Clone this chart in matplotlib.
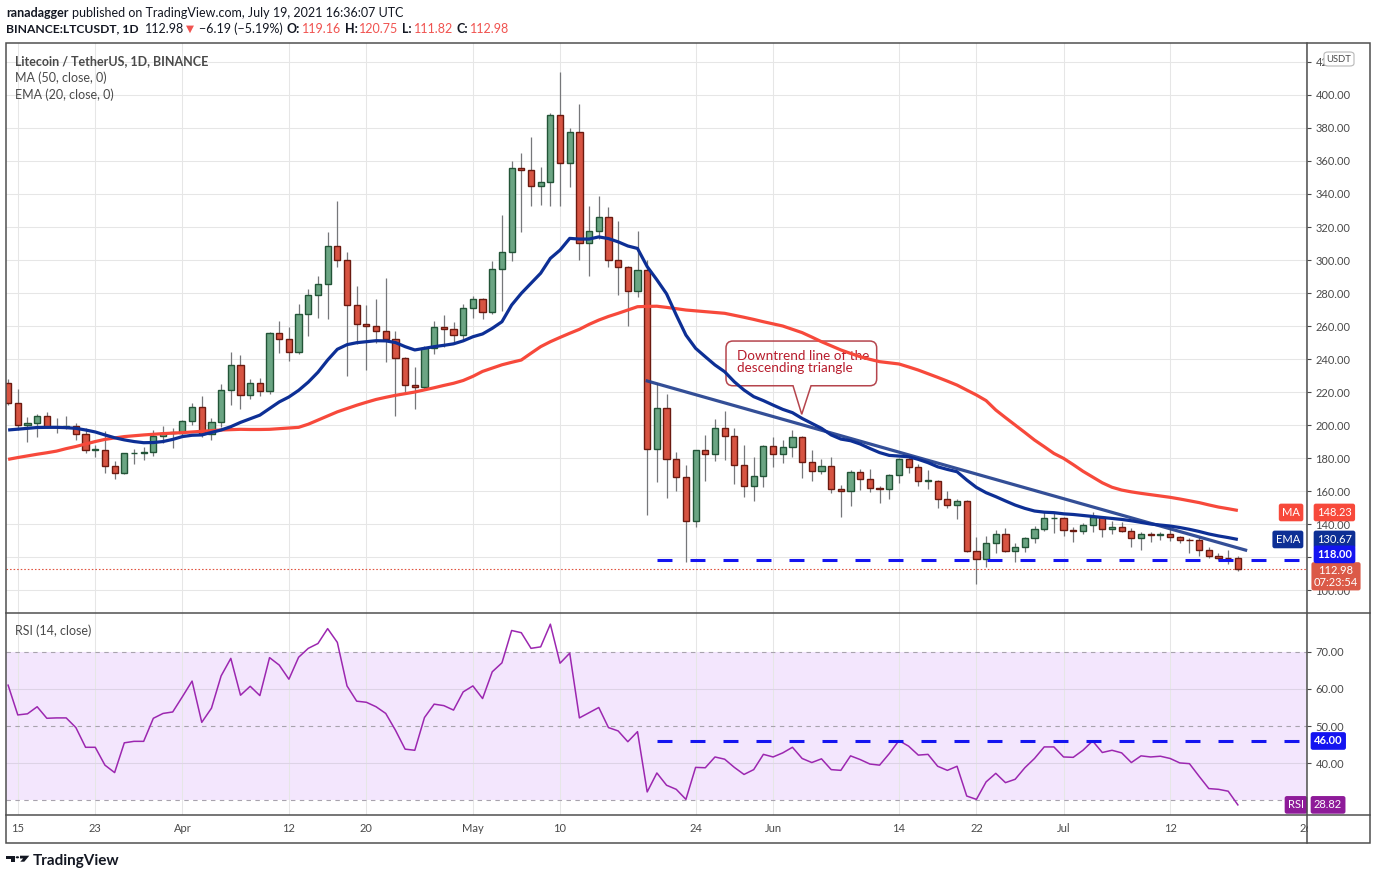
import numpy as np
import matplotlib.pyplot as plt
from matplotlib.patches import Rectangle, PathPatch, Polygon, Circle, FancyBboxPatch
from matplotlib.path import Path
from matplotlib.lines import Line2D

plt.rcParams['font.family'] = ['Lato', 'DejaVu Sans']

W, H = 1376, 880

# LTC/USDT daily candles, day 0 = 2021-03-14 ... day 127 = 2021-07-19
opens = [225.3, 213.1, 199.8, 201, 205.3, 198.6, 199, 199.3, 194.4, 184.7,
         185, 175.2, 170.8, 182.8, 183.3, 183.6, 193.2, 195, 195.4, 202.2,
         210.7, 194.4, 201.6, 221, 236.2, 218, 225.3, 220.5, 255.6, 252,
         244, 267, 278.6, 285.3, 308.3, 300.2, 272.5, 261, 259.8, 256.8,
         252, 240.4, 224, 223, 246.5, 259.2, 258, 254.8, 270.9, 276.2,
         268.3, 294.4, 304.6, 355.6, 354.4, 344.7, 347, 387.7, 358.6, 377.4,
         310.1, 317.4, 325.9, 299.8, 295.6, 281, 293.8, 185.3, 210.1, 179.2,
         168.3, 141.7, 184.7, 182.6, 198, 193.5, 176, 162.8, 169.3, 187,
         182.2, 186.5, 192.5, 177.4, 172, 175.4, 161.1, 160, 171.3, 167.1,
         161.6, 161.2, 170, 179.2, 174.4, 165.9, 166.1, 155.4, 151.3, 153.7,
         123.4, 118.6, 128.3, 133.8, 123.8, 125.9, 131.3, 136.8, 143.4, 143.6,
         136.2, 135.8, 139.4, 144, 136.8, 138, 136, 131.3, 134, 133.5,
         133.7, 132.4, 130.3, 130.1, 124.2, 120.8, 119.6, 119.16]
highs = [228, 222, 205, 206.5, 208, 204.5, 205.5, 201.5, 198, 188,
         196.5, 178, 183, 185.7, 186.7, 197, 199.4, 198.4, 203, 213.3,
         217.5, 204, 224.7, 244, 242.4, 228, 228.5, 256.2, 263, 259.4,
         273.3, 282.4, 290.3, 317, 335.8, 304.8, 284.2, 272.7, 276.4, 289,
         256.8, 241, 235.3, 248, 263, 266.5, 262.2, 273.3, 278.2, 276.8,
         299.4, 327.3, 360, 364.6, 374.5, 356.4, 389.3, 414, 380, 394.5,
         332.7, 338.8, 332, 323.6, 296.4, 317.6, 300, 225.7, 218.8, 183.6,
         175.8, 185, 194, 203.6, 208.3, 198, 188, 180.4, 188, 192.5,
         191, 197, 193.3, 184.8, 179.2, 180.8, 163.6, 172.7, 173.3, 173.3,
         163.2, 170.5, 180, 180.4, 176.2, 172.7, 166.7, 160, 155, 154.5,
         132, 132.7, 136.4, 137.4, 128.3, 132, 138.8, 148, 147, 144,
         138.4, 140.8, 147, 145, 142, 141.2, 137.4, 135, 135.4, 135.4,
         138.4, 132.7, 131.3, 132, 126.3, 122.6, 124, 120.75]
lows = [212, 197, 190, 193, 198, 195, 197.5, 191, 183, 180.5,
        171, 167, 170.5, 176.4, 179, 181, 189.3, 186, 192.5, 200,
        193, 191, 199, 212, 209.7, 215.8, 217.8, 218.6, 243.8, 239,
        243, 254, 265, 264.4, 296, 230, 249, 233.3, 250, 238.4,
        205.7, 219.6, 210, 221, 242.8, 247.3, 249, 251.5, 265, 264,
        267.3, 269.3, 299.6, 317, 333, 333.6, 333, 333, 344.4, 300,
        290.5, 313, 295.6, 279, 260.2, 277.8, 145.5, 165.3, 155.6, 160.2,
        116.8, 138.4, 166.2, 178.4, 178.8, 164.2, 156.6, 154, 162.2, 174.7,
        177, 180.8, 168, 166.2, 170.3, 159, 144, 151, 160.8, 159.6,
        153, 155.3, 165, 171, 163.2, 161.2, 149.7, 150, 142.8, 122.8,
        103.5, 114, 122.6, 123.2, 117.2, 123, 128.7, 135.8, 134.7, 133,
        129.3, 133.8, 135.4, 132.4, 134, 135, 126.3, 124.2, 129.3, 130.3,
        129.7, 128.3, 122.2, 120.6, 119.5, 118.2, 115.5, 111.82]
closes = [213.1, 199.8, 201, 205.3, 198.6, 199, 199.3, 194.4, 184.7, 185,
          175.2, 170.8, 182.8, 183.3, 183.6, 193.2, 195, 195.4, 202.2, 210.7,
          194.4, 201.6, 221, 236.2, 218, 225.3, 220.5, 255.6, 252, 244,
          267, 278.6, 285.3, 308.3, 300.2, 272.5, 261, 259.8, 256.8, 252,
          240.4, 224, 223, 246.5, 259.2, 258, 254.8, 270.9, 276.2, 268.3,
          294.4, 304.6, 355.6, 354.4, 344.7, 347, 387.7, 358.6, 377.4, 310.1,
          317.4, 325.9, 299.8, 295.6, 281, 293.8, 185.3, 210.1, 179.2, 168.3,
          141.7, 184.7, 182.6, 198, 193.5, 176, 162.8, 169.3, 187, 182.2,
          186.5, 192.5, 177.4, 172, 175.4, 161.1, 160, 171.3, 167.1, 161.6,
          161.2, 170, 179.2, 174.4, 165.9, 166.1, 155.4, 151.3, 153.7, 123.4,
          118.6, 128.3, 133.8, 123.8, 125.9, 131.3, 136.8, 143.4, 143.6, 136.2,
          135.8, 139.4, 144, 136.8, 138, 136, 131.3, 134, 133.5, 133.7,
          132.4, 130.3, 130.1, 124.2, 120.8, 119.6, 119.17, 112.98]

ema20 = [197, 197.5, 198, 198.5, 198.6, 198.6, 198.4, 198, 197, 195.8,
         194, 192.3, 191, 190, 189.3, 189.4, 190, 191.3, 193, 193.8,
         194, 195.5, 197, 199, 201.6, 203.8, 206, 210, 214, 217,
         221, 226, 232, 239.4, 245.9, 248.7, 249.9, 250.5, 251.1, 251,
         250, 247.5, 245.5, 246.5, 247.5, 248.3, 249.2, 251, 253.5, 255.2,
         258.6, 262.6, 272.7, 279.8, 285.9, 292, 301, 306, 313.1, 312.7,
         312.7, 314, 313, 311, 308.5, 307, 296, 288, 279.5, 266.7,
         254.5, 246.5, 241.4, 236.4, 232.3, 226.2, 221.2, 217.2, 214.8, 212.1,
         209.5, 207.5, 204, 201, 198, 194, 191.5, 190.5, 188.5, 185.8,
         183.3, 181.6, 181.2, 180.8, 179.2, 177.2, 174.7, 173.1, 171.7, 166.7,
         162.2, 159, 156.6, 154, 151.5, 149.5, 147.9, 147.2, 146.9, 146.2,
         145.8, 145.2, 144.6, 144, 143.4, 142.8, 142, 141, 140, 139.4,
         138.8, 137.9, 136.8, 135.5, 134, 132.8, 131.8, 130.67]
ma50 = [179.2, 180.3, 181.3, 182.3, 183.2, 184.2, 185.7, 187, 188.5, 190,
        191.3, 192.2, 193, 193.5, 194, 194.4, 194.8, 195.1, 195.4, 195.8,
        196.2, 196.6, 197, 197.2, 197.4, 197.3, 197.3, 197.4, 197.8, 198.2,
        198.6, 200.5, 203, 205.5, 208, 210, 212, 213.8, 215.5, 216.8,
        218, 219, 220, 221.3, 222.6, 224, 225.3, 227, 229.5, 232.5,
        234.5, 236.5, 238, 239.4, 243.5, 247.5, 250.5, 253.1, 255.6, 258,
        261, 263.6, 265.8, 267.7, 269.7, 271.7, 271.9, 272, 271.3, 270.5,
        269.7, 269.2, 268.7, 268.2, 267.7, 266.5, 265.3, 264, 262.6, 261.3,
        260, 258, 256, 253.3, 250.5, 248, 245.5, 243.4, 241.4, 239.8,
        238.4, 237.7, 237, 235.2, 233.3, 231.1, 228.9, 226.6, 224.2, 221.2,
        218.2, 214.8, 209.1, 204.5, 200, 195.5, 190.9, 186.9, 182.8, 179.8,
        176, 172, 168.5, 165, 162.3, 160.6, 159.5, 158.6, 157.8, 157,
        156.2, 155.2, 154.1, 153, 151.6, 150.3, 149.3, 148.23]
rsi14 = [61.0, 53.0, 53.3, 55.2, 52.1, 52.2, 52.2, 49.6, 44.3, 44.3,
         39.5, 37.5, 45.5, 45.9, 45.9, 52.1, 53.4, 53.8, 57.9, 62.1,
         51.0, 54.8, 63.5, 68.2, 58.3, 60.7, 58.2, 68.4, 66.4, 62.6,
         68.5, 70.9, 72.2, 76.2, 72.5, 60.8, 56.7, 56.4, 55.2, 53.4,
         48.9, 43.8, 43.5, 52.3, 55.9, 55.5, 54.3, 59.2, 60.8, 57.4,
         64.6, 67.0, 75.7, 75.1, 70.9, 71.3, 77.4, 66.9, 69.6, 52.2,
         53.6, 55.0, 49.6, 48.7, 45.8, 48.5, 32.3, 37.4, 34.1, 33.0,
         30.3, 38.9, 38.8, 41.7, 41.1, 38.9, 37.0, 38.3, 42.4, 41.7,
         42.8, 44.3, 41.3, 40.2, 41.2, 38.3, 38.1, 42.0, 41.0, 39.8,
         39.5, 42.6, 46.1, 44.6, 42.2, 42.4, 39.2, 38.1, 39.2, 31.2,
         30.3, 35.0, 37.3, 34.8, 35.7, 38.8, 41.3, 44.4, 44.4, 41.7,
         41.6, 43.5, 46.0, 42.9, 43.5, 42.8, 40.2, 42.0, 41.7, 41.9,
         41.3, 40.1, 39.9, 36.5, 33.2, 33.0, 32.5, 28.82]

tick_days = [1, 9, 18, 29, 37, 48, 57, 71, 79, 92, 100, 109, 120, 134]
tick_labels = ['15', '23', 'Apr', '12', '20', 'May', '10', '24', 'Jun', '14', '22', 'Jul', '12', '26']
price_ticks = list(range(100, 421, 20))
rsi_ticks = [40, 50, 60, 70]

support_price = 118.0
rsi_level = 46.0
level_start = 67
trend_start = (66, 226.7)
trend_end = (127.8, 124.2)
countdown = '07:23:54'

UP, UP_EDGE = '#6ba583', '#225437'
DN, DN_EDGE = '#d75442', '#6b1a10'
MA_C, EMA_C, LVL_C, RSI_C = '#f7493b', '#0d2f95', '#1414f0', '#9c27b0'
TXT = '#4a4a4a'
GRID = '#e6e6e6'


def fx(x):
    return x / W


def fy(y):
    return 1 - y / H


fig = plt.figure(figsize=(W / 100, H / 100), dpi=100)
fig.patch.set_facecolor('white')
ax = fig.add_axes([fx(6), fy(613), fx(1307) - fx(6), fy(43) - fy(613)])
ax2 = fig.add_axes([fx(6), fy(815), fx(1307) - fx(6), fy(613) - fy(815)], sharex=ax)

days = np.arange(len(closes))
o, h, l, c = (np.array(v, dtype=float) for v in (opens, highs, lows, closes))
up = c >= o
lo = np.minimum(o, c)
hgt = np.maximum(np.abs(c - o), 0.5)

# ---- price panel ----
ax.vlines(days, l, h, color='#76777a', lw=0.9, zorder=3)
ax.bar(days[up], hgt[up], bottom=lo[up], width=0.64, color=UP, edgecolor=UP_EDGE, lw=1.0, zorder=4)
ax.bar(days[~up], hgt[~up], bottom=lo[~up], width=0.64, color=DN, edgecolor=DN_EDGE, lw=1.0, zorder=4)
ax.plot(days, ma50, color=MA_C, lw=2.3, zorder=6, solid_capstyle='butt')
ax.plot(days, ema20, color=EMA_C, lw=2.3, zorder=6, solid_capstyle='butt')
ax.plot([trend_start[0], trend_end[0]], [trend_start[1], trend_end[1]],
        color='#23408e', lw=2.3, alpha=0.92, zorder=5)
ax.plot([level_start, 140], [support_price, support_price], color=LVL_C, lw=2.2,
        ls=(0, (4.9, 5.9)), zorder=5)
ax.axhline(c[-1], color='#e0533f', lw=0.8, ls=(0, (1.4, 1.8)), zorder=2)

# callout
bl, br, bb, bt = 74.14, 89.70, 223.8, 250.9
rx, ry = 0.72, 4.2
pl, pr, tip = 81.06, 82.92, (81.96, 206.5)
verts = [(bl + rx, bb), (pl, bb), tip, (pr, bb), (br - rx, bb),
         (br, bb), (br, bb + ry), (br, bt - ry), (br, bt), (br - rx, bt),
         (bl + rx, bt), (bl, bt), (bl, bt - ry), (bl, bb + ry), (bl, bb), (bl + rx, bb), (0, 0)]
codes = [Path.MOVETO, Path.LINETO, Path.LINETO, Path.LINETO, Path.LINETO,
         Path.CURVE3, Path.CURVE3, Path.LINETO, Path.CURVE3, Path.CURVE3,
         Path.LINETO, Path.CURVE3, Path.CURVE3, Path.LINETO, Path.CURVE3, Path.CURVE3, Path.CLOSEPOLY]
ax.add_patch(PathPatch(Path(verts, codes), fc='none', ec='#b5454d', lw=1.1, zorder=5))
ax.text(75.3, 241.6, 'Downtrend line of the', color='#b71c2c', fontsize=9.7, va='center', zorder=5)
ax.text(75.3, 234.4, 'descending triangle', color='#b71c2c', fontsize=9.7, va='center', zorder=5)

ax.set_xlim(-0.217, 134.14)
ax.set_ylim(86.1, 431.5)
ax.set_yticks(price_ticks)
# the 120 label sits fully under the 118.00 level tag
ax.set_yticklabels(['' if p == 120 else f'{p:.2f}' for p in price_ticks])
ax.yaxis.tick_right()
ax.tick_params(axis='y', length=3, width=0.8, color=TXT, pad=3, labelsize=8, labelcolor=TXT)
ax.set_xticks(tick_days)
ax.tick_params(axis='x', length=0, labelbottom=False)
ax.grid(True, color=GRID, lw=0.75)
ax.set_axisbelow(True)
for s in ax.spines.values():
    s.set_visible(False)

# ---- RSI panel ----
ax2.axhspan(30, 70, color='#f3e6fd', zorder=0.5, lw=0)
for v in (40, 60):
    ax2.axhline(v, color='#ddd3e6', lw=0.75, zorder=0.6)
for v in (30, 50, 70):
    ax2.axhline(v, color='#a8a3ad', lw=0.8, ls=(0, (4, 4)), zorder=0.7)
ax2.plot(days, rsi14, color=RSI_C, lw=1.1, zorder=4)
ax2.plot([level_start, 140], [rsi_level, rsi_level], color=LVL_C, lw=2.2,
         ls=(0, (4.9, 5.9)), zorder=5)
ax2.set_ylim(26.1, 80.4)
ax2.set_yticks(rsi_ticks)
ax2.set_yticklabels([f'{v:.2f}' for v in rsi_ticks])
ax2.yaxis.tick_right()
ax2.tick_params(axis='y', length=3, width=0.8, color=TXT, pad=3, labelsize=8, labelcolor=TXT)
ax2.set_xticks(tick_days)
ax2.set_xticklabels(tick_labels)
ax2.tick_params(axis='x', length=0, pad=5.6, labelsize=8, labelcolor=TXT)
ax2.grid(True, axis='x', color=GRID, lw=0.75, zorder=0.55)
ax2.set_axisbelow(True)
for s in ax2.spines.values():
    s.set_visible(False)


def tag(axis, value, text, color, dx, ha, va='center', dy=0, weight='normal', pad=0.3):
    axis.annotate(text, xy=(1, value), xycoords=('axes fraction', 'data'),
                  xytext=(dx, dy), textcoords='offset pixels', ha=ha, va=va,
                  color='white', fontsize=8, fontweight=weight, linespacing=1.15,
                  bbox=dict(boxstyle=f'round,pad={pad},rounding_size=0.2', fc=color, ec='none'),
                  annotation_clip=False, zorder=20)


tag(ax, ma50[-1], 'MA', MA_C, -7, 'right', dy=-2)
tag(ax, ma50[-1], f'{ma50[-1]:.2f}', MA_C, 10, 'left', dy=-2)
tag(ax, ema20[-1], 'EMA', EMA_C, -7, 'right')
tag(ax, ema20[-1], f'{ema20[-1]:.2f}', EMA_C, 10, 'left')
tag(ax, c[-1], f'{c[-1]:.2f}\n{countdown}', '#db5a48', 29, 'center', va='top', dy=4, pad=0.22)
tag(ax, support_price, f'{support_price:.2f}', LVL_C, 10, 'left', dy=6, weight='bold')
tag(ax2, rsi_level, f'{rsi_level:.2f}', LVL_C, 7, 'left', weight='bold')
tag(ax2, rsi14[-1], 'RSI', '#8e1b99', -3, 'right')
tag(ax2, rsi14[-1], f'{rsi14[-1]:.2f}', '#8e1b99', 7, 'left')

# ---- frame, covers ----
fig.add_artist(Rectangle((fx(1308), fy(842)), (1369 - 1308) / W, 26 / H, fc='white', ec='none',
                         transform=fig.transFigure, zorder=1))
fig.add_artist(FancyBboxPatch((fx(1324), fy(66)), 30 / W, 14 / H,
                              boxstyle='round,pad=0,rounding_size=0.003', fc='white', ec='#b8b8b8',
                              lw=0.8, transform=fig.transFigure, zorder=1))
fig.text(fx(1339), fy(59), 'USDT', fontsize=6.8, color=TXT, ha='center', va='center', zorder=3)
fig.add_artist(Rectangle((fx(6), fy(843)), (1370 - 6) / W, 800 / H, fill=False, ec='#4f4f4f',
                         lw=1.1, transform=fig.transFigure, zorder=2))
for seg in ([(1307, 43), (1307, 843)], [(6, 613), (1370, 613)], [(6, 815), (1370, 815)]):
    (x0, y0), (x1, y1) = seg
    fig.add_artist(Line2D([fx(x0), fx(x1)], [fy(y0), fy(y1)], color='#4f4f4f', lw=1.1,
                          transform=fig.transFigure, zorder=2))

# ---- texts ----
def ftext(x, y, s, **kw):
    kw.setdefault('color', '#131722')
    kw.setdefault('fontsize', 9)
    return fig.text(fx(x), fy(y), s, ha='left', va='center', **kw)


renderer = fig.canvas.get_renderer()


def text_run(x, y, pieces):
    # pieces: (text, gap_after_px, kwargs)
    for s, gap, kw in pieces:
        t = ftext(x, y, s, **kw)
        x += t.get_window_extent(renderer).width + gap


RED = '#f05350'
B = dict(fontweight='bold')
R = dict(color=RED)
chg = c[-1] - c[-2]
text_run(6, 13, [('ranadagger', 4, B),
                 ('published on TradingView.com, July 19, 2021 16:36:07 UTC', 0, {})])
text_run(6, 29, [('BINANCE:LTCUSDT, 1D', 6, dict(fontweight='bold', fontsize=8.7)),
                 (f'{c[-1]:.2f}', 2, {}),
                 ('▼', 5, dict(color=RED, fontsize=7.5)),
                 (f'\u2212{abs(chg):.2f} (\u2212{abs(chg) / c[-2] * 100:.2f}%)', 4, {}),
                 ('O:', 1.5, B), (f'{opens[-1]:.2f}', 4, R),
                 ('H:', 1.5, B), (f'{highs[-1]:.2f}', 4, R),
                 ('L:', 1.5, B), (f'{lows[-1]:.2f}', 4, R),
                 ('C:', 1.5, B), (f'{closes[-1]:.2f}', 0, R)])

ftext(15, 61, 'Litecoin / TetherUS, 1D, BINANCE', color=TXT, fontweight='bold')
ftext(15, 78, 'MA (50, close, 0)', color=TXT)
ftext(15, 95, 'EMA (20, close, 0)', color=TXT)
ftext(15, 631, 'RSI (14, close)', color=TXT)

# logo
fig.add_artist(Polygon([(fx(6), fy(855.7)), (fx(15), fy(855.7)), (fx(15), fy(861.7)),
                        (fx(10.5), fy(861.7)), (fx(10.5), fy(858.5)), (fx(6), fy(858.5))],
                       closed=True, fc='#131722', ec='none', transform=fig.transFigure))
fig.add_artist(Circle((fx(17.4), fy(857.3)), 1.7 / W, fc='#131722', ec='none', transform=fig.transFigure))
fig.add_artist(Polygon([(fx(20), fy(855.7)), (fx(29.3), fy(855.7)), (fx(24.3), fy(861.7)),
                        (fx(20.3), fy(861.7)), (fx(23.2), fy(858.5)), (fx(20), fy(858.5))],
                       closed=True, fc='#131722', ec='none', transform=fig.transFigure))
ftext(33, 861, 'TradingView', fontsize=11, fontweight='bold')

fig.savefig('out.png', dpi=100, facecolor='white')
